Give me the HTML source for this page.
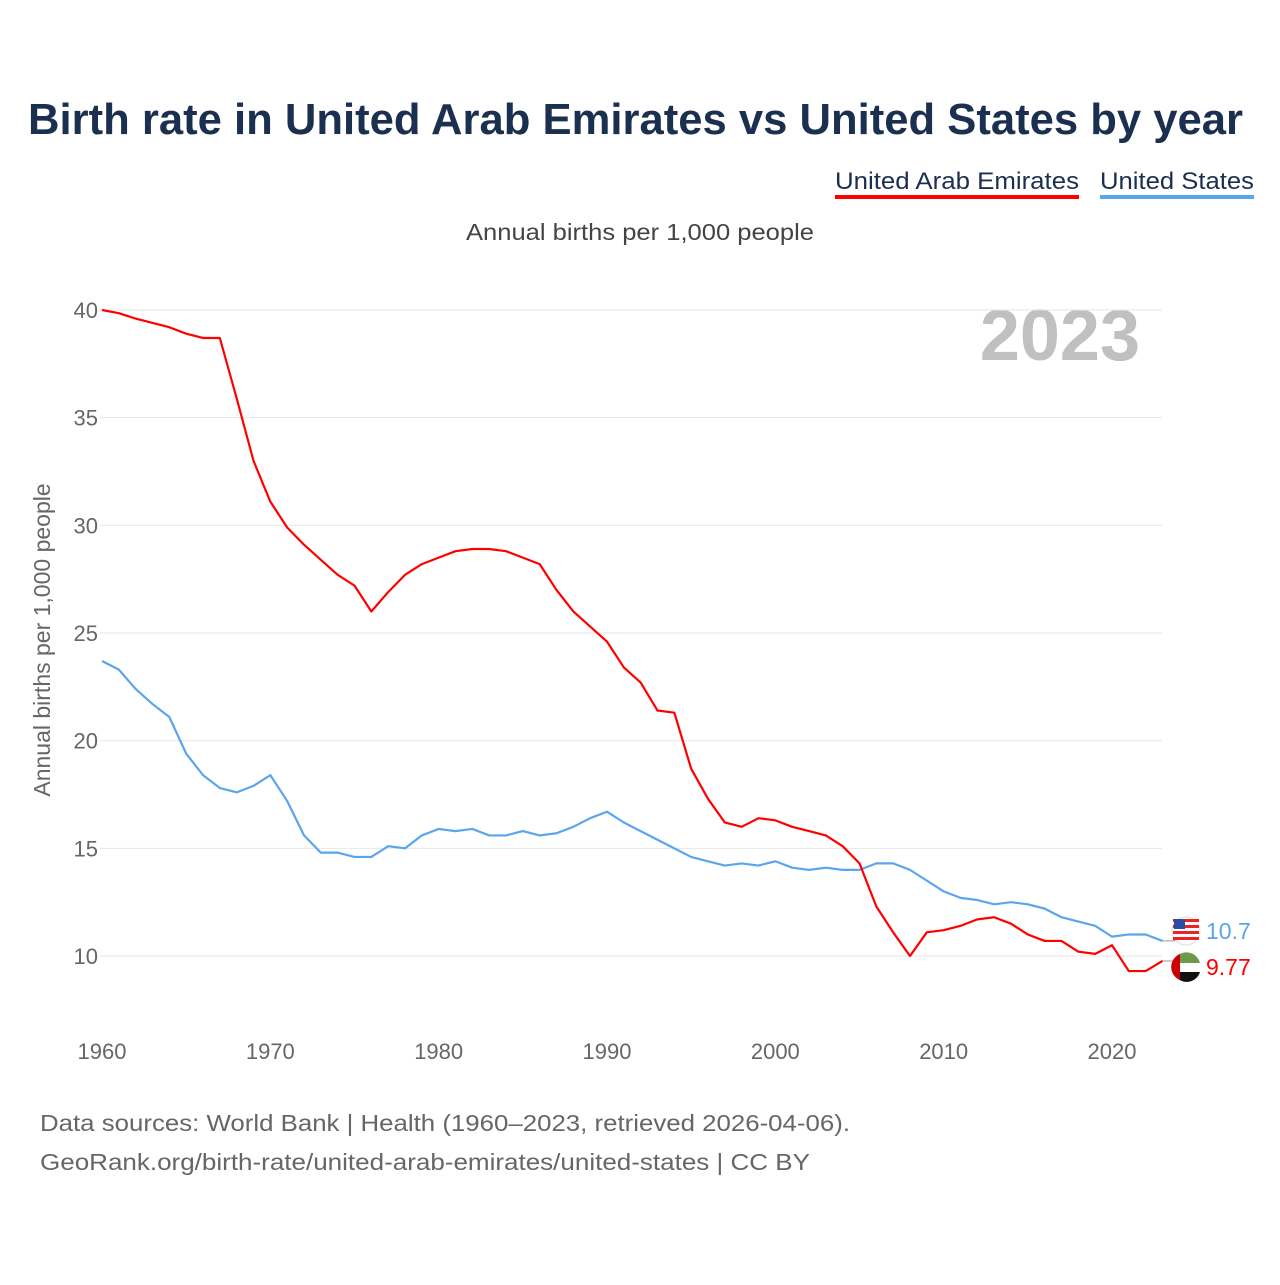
<!DOCTYPE html>
<html><head><meta charset="utf-8"><style>
body{margin:0;background:#fff;font-family:"Liberation Sans",sans-serif}
</style></head><body>
<svg width="1280" height="1280" xmlns="http://www.w3.org/2000/svg" style="font-family:'Liberation Sans',sans-serif">
<text x="28" y="134" textLength="1215" lengthAdjust="spacingAndGlyphs" font-size="44" font-weight="bold" fill="#1b3050">Birth rate in United Arab Emirates vs United States by year</text>
<g>
<text x="835" y="189" textLength="244" lengthAdjust="spacingAndGlyphs" font-size="24" fill="#1b3050">United Arab Emirates</text>
<rect x="835" y="195" width="244" height="4" fill="#f00"/>
<text x="1100" y="189" textLength="154" lengthAdjust="spacingAndGlyphs" font-size="24" fill="#1b3050">United States</text>
<rect x="1100" y="195" width="154" height="4" fill="#5aa5ec"/>
</g>
<text x="466" y="240" textLength="348" lengthAdjust="spacingAndGlyphs" font-size="23" fill="#444">Annual births per 1,000 people</text>
<text transform="translate(50,640) rotate(-90)" text-anchor="middle" font-size="23" fill="#666">Annual births per 1,000 people</text>
<text x="1140" y="360" text-anchor="end" font-size="72" font-weight="bold" fill="#c0c0c0">2023</text>
<g id="grid"></g><g id="lines"></g><g id="labels"></g>
<text x="40" y="1131" textLength="810" lengthAdjust="spacingAndGlyphs" font-size="23" fill="#666">Data sources: World Bank | Health (1960–2023, retrieved 2026-04-06).</text>
<text x="40" y="1170" textLength="770" lengthAdjust="spacingAndGlyphs" font-size="23" fill="#666">GeoRank.org/birth-rate/united-arab-emirates/united-states | CC BY</text>
</svg>
<script>
const years=[];for(let y=1960;y<=2023;y++)years.push(y);
const uae=[40.0,39.85,39.6,39.4,39.2,38.9,38.7,38.7,35.9,33.0,31.1,29.9,29.1,28.4,27.7,27.2,26.0,26.9,27.7,28.2,28.5,28.8,28.9,28.9,28.8,28.5,28.2,27.0,26.0,25.3,24.6,23.4,22.7,21.4,21.3,18.7,17.3,16.2,16.0,16.4,16.3,16.0,15.8,15.6,15.1,14.3,12.3,11.1,10.0,11.1,11.2,11.4,11.7,11.8,11.5,11.0,10.7,10.7,10.2,10.1,10.5,9.3,9.3,9.77];
const us=[23.7,23.3,22.4,21.7,21.1,19.4,18.4,17.8,17.6,17.9,18.4,17.2,15.6,14.8,14.8,14.6,14.6,15.1,15.0,15.6,15.9,15.8,15.9,15.6,15.6,15.8,15.6,15.7,16.0,16.4,16.7,16.2,15.8,15.4,15.0,14.6,14.4,14.2,14.3,14.2,14.4,14.1,14.0,14.1,14.0,14.0,14.3,14.3,14.0,13.5,13.0,12.7,12.6,12.4,12.5,12.4,12.2,11.8,11.6,11.4,10.9,11.0,11.0,10.7];
const yTicks=[10,15,20,25,30,35,40];
const xTicks=[1960,1970,1980,1990,2000,2010,2020];
const X=y=>102+(y-1960)*(1010/60);
const Y=v=>956-(v-10)*(646/30);
const NS="http://www.w3.org/2000/svg";
function mk(t,a,p){const e=document.createElementNS(NS,t);for(const k in a)e.setAttribute(k,a[k]);document.getElementById(p).appendChild(e);return e;}
yTicks.forEach(v=>{
 const l=mk('line',{x1:100,x2:1162,y1:Y(v),y2:Y(v),stroke:'#e6e6e6','stroke-width':1},'grid');
 
 
 const t=mk('text',{x:98,y:Y(v)+8,'text-anchor':'end','font-size':22,fill:'#666'},'grid');t.textContent=v;
 
 
});
xTicks.forEach(v=>{
 const t=mk('text',{x:X(v),y:1059,'text-anchor':'middle','font-size':22,fill:'#666'},'grid');t.textContent=v;
 
 
});
function line(d,c,name){
 const p=mk('polyline',{points:d.map((v,i)=>X(years[i])+','+Y(v)).join(' '),fill:'none',stroke:c,'stroke-width':2.2,'stroke-linejoin':'round'},'lines');
 
 
}
line(us,'#5aa5ec','series-us');
line(uae,'#f00','series-uae');
function endLabel(d,c,ly,name,flag){
 const last=d[d.length-1],x=X(2023),y=Y(last);
 mk('polyline',{points:`${x},${y} ${x+12},${y} ${x+12},${ly}`,fill:'none',stroke:'#999','stroke-width':1},'labels');
 const g=mk('g',{},'labels');
 
 
 if(flag==='us'){
  const cy=ly;mk('circle',{cx:1186,cy:cy,r:14,fill:'#fff',stroke:'#ddd'},'labels');
  for(let i=0;i<4;i++)mk('rect',{x:1173,y:cy-12+i*6,width:26,height:3,fill:'#e22'},'labels');
  mk('rect',{x:1174,y:cy-12,width:11,height:10,fill:'#2a4fa0'},'labels');
 }else{
  const cy=ly;
  mk('circle',{cx:1186,cy:cy,r:14,fill:'#fff'},'labels');
  mk('path',{d:`M1176,${cy-10} A14,14 0 0 1 1200,${cy-4} L1176,${cy-4}Z`,fill:'#6a9a4a'},'labels');
  mk('path',{d:`M1176,${cy+5} L1200,${cy+5} A14,14 0 0 1 1176,${cy+10}Z`,fill:'#111'},'labels');
  mk('path',{d:`M1180,${cy-13} A14,14 0 0 0 1180,${cy+13}Z`,fill:'#c00'},'labels');
 }
 const t=mk('text',{x:1206,y:ly+8,'font-size':23,fill:c},'labels');t.textContent=last;
 
 
}
endLabel(us,'#5aa5ec',931,'us','us');
endLabel(uae,'#f00',967,'uae','uae');
</script>
</body></html>
